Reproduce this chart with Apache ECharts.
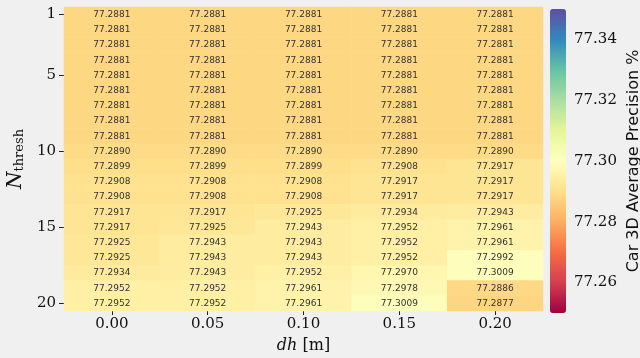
<!DOCTYPE html>
<html>
<head>
<meta charset="utf-8">
<script src="https://cdn.jsdelivr.net/npm/echarts@6/dist/echarts.min.js"></script>
<style>
  html, body { margin: 0; padding: 0; background: #f0f0f0; }
  #chart { width: 640px; height: 358px; }
</style>
</head>
<body>
<div id="chart"></div>
<script>
// dh 列 和 N_thresh 行
const dhLabels = ['0.00', '0.05', '0.10', '0.15', '0.20'];
const nThresh = ['1', '2', '3', '4', '5', '6', '7', '8', '9', '10',
    '11', '12', '13', '14', '15', '16', '17', '18', '19', '20'];
const nTickLabels = ['1', '5', '10', '15', '20'];
const cbTicks = [77.26, 77.28, 77.30, 77.32, 77.34];

// 每行对应一个 N_thresh，五列对应 dh
const apRows = [
    [77.2881, 77.2881, 77.2881, 77.2881, 77.2881],
    [77.2881, 77.2881, 77.2881, 77.2881, 77.2881],
    [77.2881, 77.2881, 77.2881, 77.2881, 77.2881],
    [77.2881, 77.2881, 77.2881, 77.2881, 77.2881],
    [77.2881, 77.2881, 77.2881, 77.2881, 77.2881],
    [77.2881, 77.2881, 77.2881, 77.2881, 77.2881],
    [77.2881, 77.2881, 77.2881, 77.2881, 77.2881],
    [77.2881, 77.2881, 77.2881, 77.2881, 77.2881],
    [77.2881, 77.2881, 77.2881, 77.2881, 77.2881],
    [77.2890, 77.2890, 77.2890, 77.2890, 77.2890],
    [77.2899, 77.2899, 77.2899, 77.2908, 77.2917],
    [77.2908, 77.2908, 77.2908, 77.2917, 77.2917],
    [77.2908, 77.2908, 77.2908, 77.2917, 77.2917],
    [77.2917, 77.2917, 77.2925, 77.2934, 77.2943],
    [77.2917, 77.2925, 77.2943, 77.2952, 77.2961],
    [77.2925, 77.2943, 77.2943, 77.2952, 77.2961],
    [77.2925, 77.2943, 77.2943, 77.2952, 77.2992],
    [77.2934, 77.2943, 77.2952, 77.2970, 77.3009],
    [77.2952, 77.2952, 77.2961, 77.2978, 77.2886],
    [77.2952, 77.2952, 77.2961, 77.3009, 77.2877]
];

const spectral = ['#9e0142', '#d53e4f', '#f46d43', '#fdae61', '#fee08b', '#ffffbf',
    '#e6f598', '#abdda4', '#66c2a5', '#3288bd', '#5e4fa2'];

const heatData = [];
apRows.forEach((row, r) => {
    row.forEach((v, c) => heatData.push([c, r, v]));
});

const showN = (idx, val) => nTickLabels.indexOf(String(val)) >= 0;
const serif = 'DejaVu Serif';

const chart = echarts.init(document.getElementById('chart'));
chart.setOption({
    backgroundColor: '#f0f0f0',
    animation: false,
    grid: [
        { left: 64, top: 7, width: 479, height: 304, outerBoundsMode: 'none', containLabel: false },
        { left: 550, top: 9, width: 16, height: 304, outerBoundsMode: 'none', containLabel: false }
    ],
    xAxis: [
        {
            type: 'category',
            gridIndex: 0,
            data: dhLabels,
            axisLine: { show: false },
            axisTick: { show: true, alignWithLabel: true, length: 4, lineStyle: { color: '#222' } },
            axisLabel: { color: '#111', fontFamily: serif, fontSize: 15, margin: 6 },
            splitLine: { show: false },
            name: '{i|dh} [m]',
            nameLocation: 'middle',
            nameGap: 27,
            nameTextStyle: {
                color: '#111', fontFamily: serif, fontSize: 16,
                rich: { i: { fontFamily: serif, fontStyle: 'italic', fontSize: 16, color: '#111' } }
            }
        },
        { type: 'value', gridIndex: 1, show: false, min: 0, max: 1 }
    ],
    yAxis: [
        {
            type: 'category',
            gridIndex: 0,
            data: nThresh,
            inverse: true,
            axisLine: { show: false },
            axisTick: { show: true, alignWithLabel: true, length: 5, interval: showN, lineStyle: { color: '#222' } },
            axisLabel: { color: '#111', fontFamily: serif, fontSize: 15, margin: 8, interval: showN },
            splitLine: { show: false },
            name: '{n|N}{s|thresh}',
            nameLocation: 'middle',
            nameGap: 35,
            nameRotate: 90,
            nameTextStyle: {
                rich: {
                    n: { fontFamily: serif, fontStyle: 'italic', fontSize: 20, color: '#111' },
                    s: { fontFamily: serif, fontSize: 13, color: '#111', padding: [8, 0, 0, 0] }
                }
            }
        },
        {
            type: 'value',
            gridIndex: 1,
            position: 'right',
            min: 77.25,
            max: 77.35,
            axisLine: { show: false },
            axisTick: { show: true, length: 5, customValues: cbTicks, lineStyle: { color: '#222' } },
            axisLabel: {
                color: '#111', fontFamily: serif, fontSize: 15, margin: 8,
                customValues: cbTicks, formatter: v => v.toFixed(2)
            },
            splitLine: { show: false },
            name: 'Car 3D Average Precision %',
            nameLocation: 'middle',
            nameGap: 60,
            nameRotate: 90,
            nameTextStyle: { color: '#111', fontFamily: 'DejaVu Sans', fontSize: 16 }
        }
    ],
    visualMap: {
        type: 'continuous',
        min: 77.25,
        max: 77.35,
        seriesIndex: 0,
        calculable: false,
        orient: 'vertical',
        left: 550,
        top: 9,
        padding: 0,
        itemWidth: 16,
        itemHeight: 304,
        text: null,
        inRange: { color: spectral }
    },
    series: [
        {
            type: 'heatmap',
            xAxisIndex: 0,
            yAxisIndex: 0,
            data: heatData,
            label: {
                show: true,
                color: '#333',
                fontFamily: 'DejaVu Sans',
                fontSize: 9,
                formatter: p => p.value[2].toFixed(4)
            }
        }
    ]
});
</script>
</body>
</html>
